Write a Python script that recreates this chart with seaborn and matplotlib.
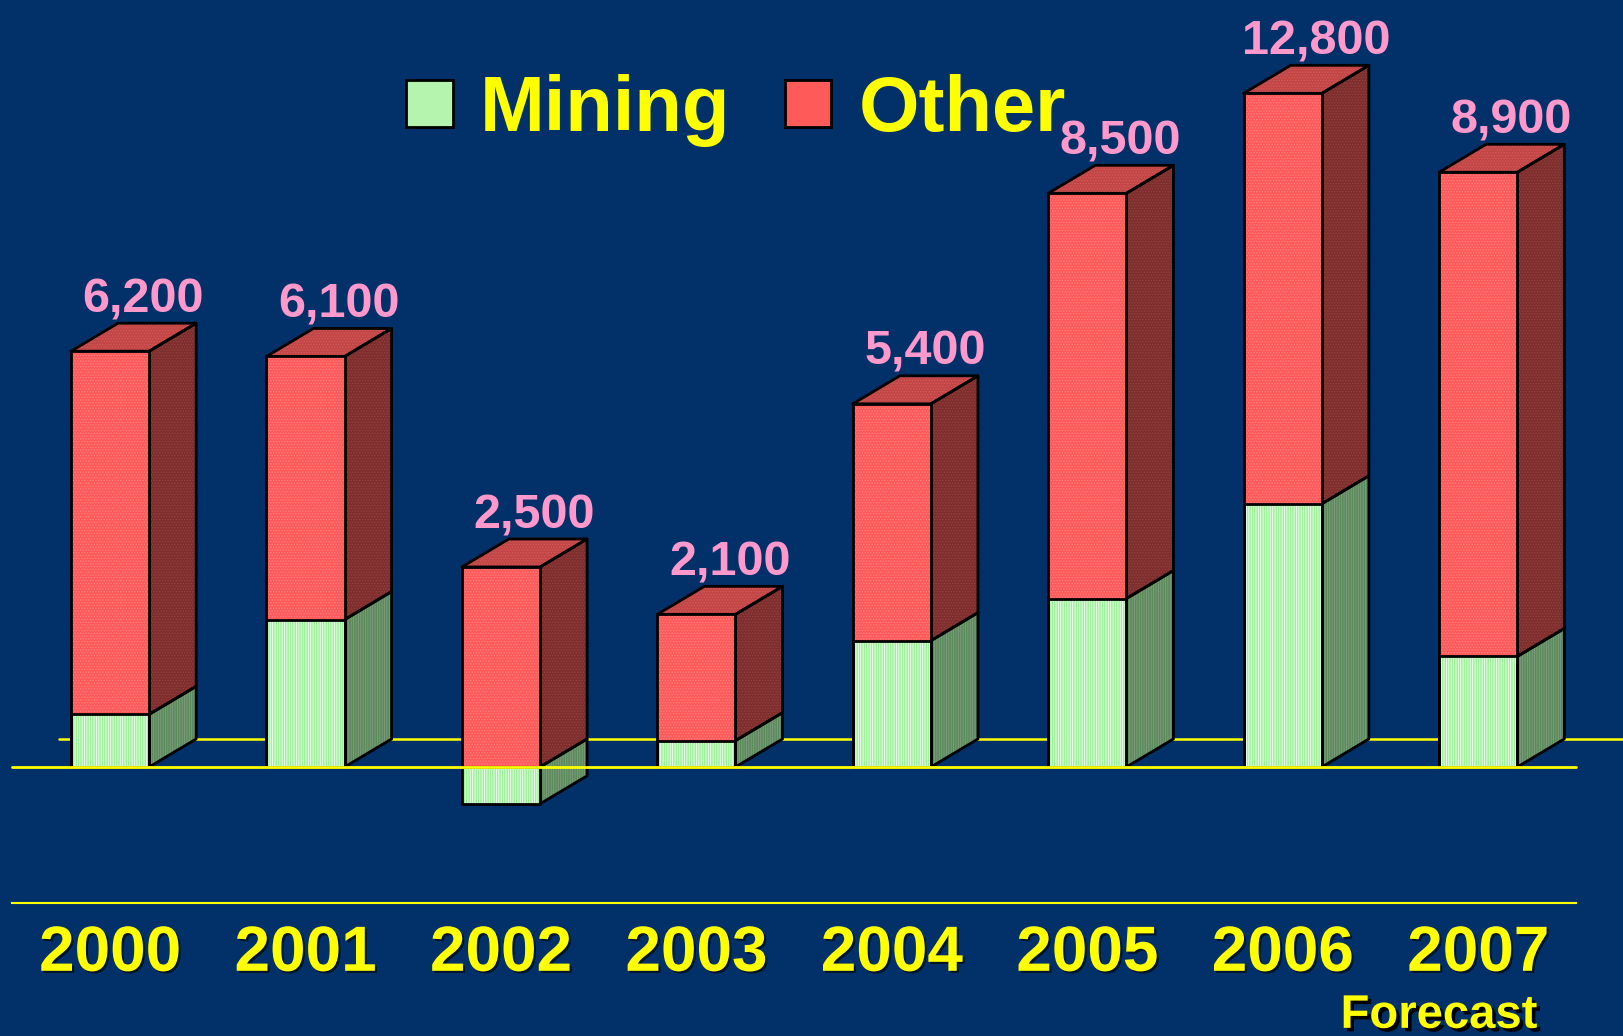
import matplotlib
matplotlib.use('Agg')
import matplotlib.pyplot as plt
import matplotlib.patheffects as pe
from matplotlib.patches import Polygon, Patch
import seaborn as sns
import pandas as pd

# data (bar heights, labels as printed)
years = ['2000', '2001', '2002', '2003', '2004', '2005', '2006', '2007']
mining = [1000, 2800, -700, 500, 2400, 3200, 5000, 2100]
other = [6900, 5000, 3800, 2400, 4500, 7700, 7800, 9200]
totals_label = ['6,200', '6,100', '2,500', '2,100', '5,400', '8,500', '12,800', '8,900']

bg = '#023068'
yellow = '#ffff00'
pink = '#ff99cc'
green, green_side = '#9ef09a', '#5b8a5b'
red, red_side, red_top = '#ff5a5a', '#7f2e2e', '#c24646'

sns.set_theme(style='white')
plt.rcParams['font.family'] = ['Liberation Sans', 'DejaVu Sans']
plt.rcParams['hatch.linewidth'] = 0.6

df = pd.DataFrame({'year': years, 'mining': mining, 'other': other})
df['red_bottom'] = df['mining'].clip(lower=0)
df['red_top'] = df['red_bottom'] + df['other']

fig = plt.figure(figsize=(16.23, 10.36), dpi=100, facecolor=bg)
ax = fig.add_axes([0.0076, 0.1284, 0.9634, 0.8716])
ax.set_facecolor(bg)
ax.set_xlim(-0.5, 7.5)
ax.set_ylim(-2584, 14573)

# 3D depth in pixels -> data units
fig.canvas.draw()
p0 = ax.transData.transform((0, 0))
p1 = ax.transData.transform((1, 1000))
dx = 47 / (p1[0] - p0[0])
dy = 28 / ((p1[1] - p0[1]) / 1000)
w = 0.4


def face(verts, fc, hatch, hc, z=3):
    ax.add_patch(Polygon(verts, closed=True, facecolor=fc, edgecolor=hc,
                         hatch=hatch, lw=0, zorder=z, clip_on=False))
    ax.add_patch(Polygon(verts, closed=True, fill=False, edgecolor='black',
                         lw=2, zorder=z + 0.1, clip_on=False, joinstyle='round'))


# back floor line (behind bars)
ax.plot([-0.5 + dx, 7.5 + dx], [dy, dy], color=yellow, lw=1.8, zorder=1, clip_on=False)

# side and top faces
for i, r in df.iterrows():
    xr = i + w / 2
    xl = i - w / 2
    g0, g1 = min(r['mining'], 0), max(r['mining'], 0)
    face([(xr, g0), (xr, g1), (xr + dx, g1 + dy), (xr + dx, g0 + dy)],
         green_side, '|||||||', '#7f9f7f')
    t0, t1 = r['red_bottom'], r['red_top']
    face([(xr, t0), (xr, t1), (xr + dx, t1 + dy), (xr + dx, t0 + dy)],
         red_side, '......', '#934040')
    face([(xl, t1), (xr, t1), (xr + dx, t1 + dy), (xl + dx, t1 + dy)],
         red_top, '......', '#d45a5a')

# front faces
n0 = len(ax.patches)
sns.barplot(data=df, x='year', y='red_top', color=red, width=w, errorbar=None,
            saturation=1, linewidth=0, ax=ax, zorder=4)
for p in ax.patches[n0:]:
    p.set_hatch('......')
    p.set_edgecolor('#ff8080')
n1 = len(ax.patches)
sns.barplot(data=df, x='year', y='mining', color=green, width=w, errorbar=None,
            saturation=1, linewidth=0, ax=ax, zorder=4)
for p in ax.patches[n1:]:
    p.set_hatch('|||||||')
    p.set_edgecolor('#f4fff4')
sns.barplot(data=df, x='year', y='red_top', fill=False, color='black', width=w,
            errorbar=None, linewidth=2, ax=ax, zorder=5)
sns.barplot(data=df, x='year', y='mining', fill=False, color='black', width=w,
            errorbar=None, linewidth=2, ax=ax, zorder=5)

# front baseline drawn over bars
ax.plot([-0.5, 7.5], [0, 0], color=yellow, lw=2, zorder=6, clip_on=False)

# total labels
for i, r in df.iterrows():
    ax.annotate(totals_label[i], xy=(i, r['red_top']), xytext=(24, 28),
                textcoords='offset points', ha='center', va='baseline',
                color=pink, fontsize=35, fontweight='bold', zorder=7,
                annotation_clip=False)

ax.set_xlim(-0.5, 7.5)
ax.set_ylim(-2584, 14573)
ax.set_xlabel('')
ax.set_ylabel('')
ax.set_yticks([])
ax.tick_params(axis='x', length=0, pad=15, labelsize=46, labelcolor=yellow)
for lab in ax.get_xticklabels():
    lab.set_fontweight('bold')
    lab.set_path_effects([pe.withSimplePatchShadow(offset=(1.5, -1.5), shadow_rgbFace='black', alpha=0.6)])
for s in ['top', 'left', 'right']:
    ax.spines[s].set_visible(False)
ax.spines['bottom'].set_color(yellow)
ax.spines['bottom'].set_linewidth(1.5)

ax.text(6.8, -0.125, 'Forecast', transform=ax.get_xaxis_transform(), ha='center',
        va='center', color=yellow, fontsize=34, fontweight='bold',
        path_effects=[pe.withSimplePatchShadow(offset=(2.5, -2.5), shadow_rgbFace='black', alpha=1)])

handles = [Patch(facecolor='#b4f4ae', edgecolor='black', lw=2, label='Mining'),
           Patch(facecolor=red, edgecolor='black', lw=2, label='Other')]
leg = fig.legend(handles=handles, loc='center', bbox_to_anchor=(0.4535, 0.893), ncol=2,
                 frameon=False, fontsize=56, handlelength=0.6, handleheight=0.55,
                 handletextpad=0.35, columnspacing=0.7)
for t in leg.get_texts():
    t.set_color(yellow)
    t.set_fontweight('bold')

fig.savefig('out.png', dpi=100, facecolor=bg)
